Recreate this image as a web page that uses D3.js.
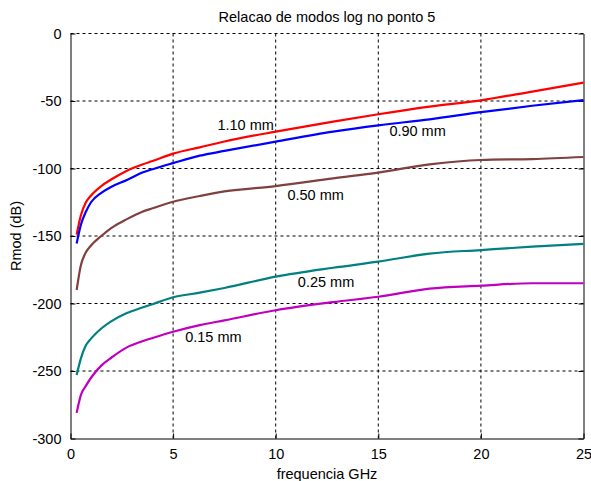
<!DOCTYPE html>
<html>
<head>
<meta charset="utf-8">
<script src="https://cdn.jsdelivr.net/npm/d3@7"></script>
<style>
  body { margin: 0; background: #fff; }
  text { font-family: "Liberation Sans", Arial, sans-serif; fill: #000; }
</style>
</head>
<body>
<script>
// frequency samples (GHz), shared by all curves
var freq = [0.3, 0.5, 0.75, 1, 1.5, 2, 2.75, 3.5, 4, 5, 6.3, 7.5, 10, 12.8, 15, 17.5, 20, 22.5, 25];

// Rmod (dB) for each wire diameter
var r110 = [-149, -135, -125, -120, -113, -108, -101.6, -97, -94.5, -89, -84.3, -80, -72.7, -65.3, -59.8, -54.2, -49.5, -43, -36.4];
var r090 = [-155.5, -142, -132, -125, -118, -113.5, -108.5, -103, -100.5, -96, -90.5, -87, -80.1, -72.7, -68, -63.6, -58.3, -53.5, -49.3];
var r050 = [-190, -172, -162, -157, -150, -144, -137.5, -132, -129.5, -124.6, -120.4, -117, -113, -107.3, -103, -97, -93.7, -93, -91.5];
var r025 = [-253, -241, -231, -226, -218.5, -213, -207, -203, -200.5, -195.4, -192, -188.5, -180.1, -173.5, -169, -163, -160.4, -157.9, -155.9];
var r015 = [-281, -268, -261, -255, -246, -240, -232.5, -228, -225.5, -220.9, -216, -212.5, -205, -199, -195, -189, -186.8, -185, -185];

// curve labels and where they sit (data units)
var labels = ["1.10 mm", "0.90 mm", "0.50 mm", "0.25 mm", "0.15 mm"];
var labelX = [7.16, 15.54, 10.57, 11.08, 5.59];
var labelY = [-67.8, -72, -119.6, -183.9, -224.6];

var xTicks = [0, 5, 10, 15, 20, 25];
var yTicks = [0, -50, -100, -150, -200, -250, -300];

var series = [
  {values: r110, color: "#ff0000"},
  {values: r090, color: "#0000ff"},
  {values: r050, color: "#804040"},
  {values: r025, color: "#008080"},
  {values: r015, color: "#c000c0"}
];

var margin = {top: 33.5, right: 7.5, bottom: 42.5, left: 70.5},
    width = 591 - margin.left - margin.right,
    height = 481 - margin.top - margin.bottom;

var svg = d3.select("body").append("svg")
    .attr("width", 591)
    .attr("height", 481)
  .append("g")
    .attr("transform", "translate(" + margin.left + "," + margin.top + ")");

var x = d3.scaleLinear().domain([0, 25]).range([0, width]);
var y = d3.scaleLinear().domain([-300, 0]).range([height, 0]);

// grid
svg.append("g")
    .selectAll("line")
    .data(xTicks.slice(1, -1))
    .enter().append("line")
    .attr("x1", function(d) { return x(d); })
    .attr("x2", function(d) { return x(d); })
    .attr("y1", 0).attr("y2", height)
    .attr("stroke", "#000").attr("stroke-dasharray", "3,3");
svg.append("g")
    .selectAll("line")
    .data(yTicks.slice(0, -1))
    .enter().append("line")
    .attr("x1", 0).attr("x2", width)
    .attr("y1", function(d) { return y(d); })
    .attr("y2", function(d) { return y(d); })
    .attr("stroke", "#000").attr("stroke-dasharray", "3,3");

// axes (ticks inward, plain hyphen for minus)
var fontSize = "14.5px";
var fmt = function(d) { return String(d); };
var xAxis = svg.append("g")
    .attr("transform", "translate(0," + height + ")")
    .call(d3.axisBottom(x).tickValues(xTicks).tickFormat(fmt).tickSizeInner(-5).tickSizeOuter(0).tickPadding(10));
var yAxis = svg.append("g")
    .call(d3.axisLeft(y).tickValues(yTicks).tickFormat(fmt).tickSizeInner(-5).tickSizeOuter(0).tickPadding(9));
svg.append("g")
    .attr("transform", "translate(" + width + ",0)")
    .call(d3.axisRight(y).tickValues(yTicks).tickSizeInner(-5).tickSizeOuter(0).tickFormat(""));
[xAxis, yAxis].forEach(function(a) {
  a.selectAll("text").style("font-size", fontSize).style("font-family", "Liberation Sans, Arial, sans-serif");
});
svg.selectAll(".domain").attr("stroke", "#000");
svg.selectAll(".tick line").attr("stroke", "#000");

// curves
var line = d3.line()
    .x(function(d, i) { return x(freq[i]); })
    .y(function(d) { return y(d); })
    .curve(d3.curveMonotoneX);

svg.selectAll(".curve")
    .data(series)
    .enter().append("path")
    .attr("class", "curve")
    .attr("d", function(s) { return line(s.values); })
    .attr("fill", "none")
    .attr("stroke", function(s) { return s.color; })
    .attr("stroke-width", 2.2);

// curve labels
svg.selectAll(".lbl")
    .data(labels)
    .enter().append("text")
    .attr("class", "lbl")
    .attr("x", function(d, i) { return x(labelX[i]); })
    .attr("y", function(d, i) { return y(labelY[i]); })
    .attr("dy", "0.35em")
    .style("font-size", fontSize)
    .text(function(d) { return d; });

// title and axis labels
svg.append("text")
    .attr("x", width / 2)
    .attr("y", -12)
    .style("text-anchor", "middle")
    .style("font-size", fontSize)
    .text("Relacao de modos log no ponto 5");
svg.append("text")
    .attr("x", width / 2)
    .attr("y", height + 40)
    .style("text-anchor", "middle")
    .style("font-size", fontSize)
    .text("frequencia GHz");
svg.append("text")
    .attr("transform", "rotate(-90)")
    .attr("x", -height / 2)
    .attr("y", -50)
    .style("text-anchor", "middle")
    .style("font-size", fontSize)
    .text("Rmod (dB)");
</script>
</body>
</html>
